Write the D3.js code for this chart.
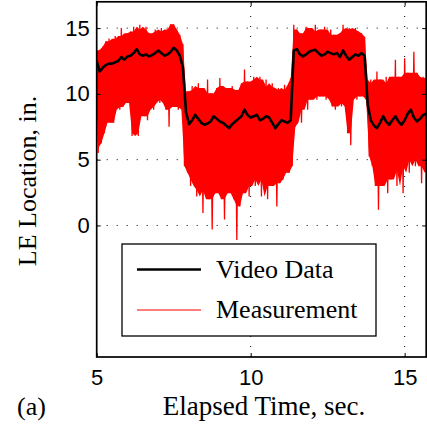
<!DOCTYPE html>
<html>
<head>
<meta charset="utf-8">
<script src="https://cdn.jsdelivr.net/npm/d3@7"></script>
<style>
  html, body { margin: 0; padding: 0; background: #fff; }
  svg { display: block; }
</style>
</head>
<body>
<svg id="chart"></svg>
<script>
// time stamps, sec.
const time = [
  5.0, 5.1, 5.2, 5.3, 5.4, 5.5, 5.6, 5.7, 5.8, 5.9,
  6.0, 6.1, 6.2, 6.3, 6.4, 6.5, 6.6, 6.7, 6.8, 6.9,
  7.0, 7.1, 7.2, 7.3, 7.4, 7.5, 7.6, 7.7, 7.8, 7.9,
  8.0, 8.1, 8.2, 8.3, 8.4, 8.5, 8.6, 8.7, 8.8, 8.9,
  9.0, 9.1, 9.2, 9.3, 9.4, 9.5, 9.6, 9.7, 9.8, 9.9,
  10.0, 10.1, 10.2, 10.3, 10.4, 10.5, 10.6, 10.7, 10.8, 10.9,
  11.0, 11.1, 11.2, 11.3, 11.4, 11.5, 11.6, 11.7, 11.8, 11.9,
  12.0, 12.1, 12.2, 12.3, 12.4, 12.5, 12.6, 12.7, 12.8, 12.9,
  13.0, 13.1, 13.2, 13.3, 13.4, 13.5, 13.6, 13.7, 13.8, 13.9,
  14.0, 14.1, 14.2, 14.3, 14.4, 14.5, 14.6, 14.7, 14.8, 14.9,
  15.0, 15.1, 15.2, 15.3, 15.4, 15.5, 15.6, 15.7
];

// LE location from video, in.
const video = [
  12.5, 11.7, 12.0, 12.2, 12.3, 12.3, 12.4, 12.5, 12.8, 12.6,
  12.85, 12.9, 13.1, 13.4, 13.0, 12.9, 13.0, 12.85, 12.95, 13.1,
  13.3, 13.1, 12.9, 13.0, 13.2, 13.5, 13.3, 12.9, 12.0, 8.6,
  7.7, 8.0, 8.4, 8.1, 7.8, 7.65, 7.75, 7.9, 8.3, 8.1,
  7.9, 7.8, 7.6, 7.4, 7.7, 7.9, 8.1, 8.3, 8.8, 8.4,
  8.2, 8.3, 8.4, 8.0, 8.1, 8.3, 8.2, 7.8, 7.4, 7.7,
  8.0, 7.9, 7.8, 8.0, 13.3, 13.4, 13.0, 12.85, 13.0, 13.2,
  13.3, 13.35, 13.1, 12.9, 13.0, 13.2, 13.1, 13.0, 13.1, 12.8,
  13.3, 12.9, 12.6, 12.8, 13.0, 12.9, 13.1, 12.9, 9.2, 8.0,
  7.6, 7.4, 7.8, 8.3, 7.9, 7.65, 8.0, 8.3, 7.9, 7.65,
  8.0, 8.5, 8.8, 8.2, 7.9, 8.1, 8.4, 8.5
];

// measurement: upper and lower swing in each 0.1 s slot
const measHigh = [
  13.35, 13.2, 13.6, 14.0, 14.2, 13.6, 14.4, 14.2, 15.0, 14.4,
  14.6, 14.75, 15.1, 14.5, 15.25, 14.9, 15.1, 14.6, 14.2, 14.9,
  14.75, 15.0, 14.6, 14.9, 15.3, 15.3, 14.9, 14.5, 13.8, 10.05,
  10.2, 10.6, 10.3, 10.8, 10.45, 10.05, 11.1, 10.05, 9.8, 10.45,
  11.2, 10.6, 10.05, 10.45, 10.6, 10.3, 10.2, 10.8, 11.85, 10.95,
  10.8, 11.3, 11.1, 11.3, 10.55, 11.1, 10.55, 10.8, 10.3, 10.45,
  10.3, 10.7, 10.05, 11.2, 15.25, 14.9, 14.6, 14.4, 15.1, 15.0,
  14.75, 15.25, 14.6, 14.9, 15.1, 14.4, 14.9, 14.5, 14.4, 14.6,
  15.25, 14.9, 15.0, 14.9, 15.0, 14.75, 14.6, 14.35, 10.55, 11.1,
  10.8, 11.7, 11.1, 10.8, 11.3, 10.8, 11.3, 12.6, 11.3, 11.1,
  12.7, 11.6, 11.1, 13.2, 11.6, 11.1, 11.3, 11.2
];
const measLow = [
  5.5, 6.25, 7.0, 8.5, 7.8, 7.8, 9.55, 8.8, 9.0, 9.3,
  9.55, 6.8, 7.0, 6.8, 8.8, 8.3, 8.0, 9.0, 8.8, 9.55,
  9.3, 9.55, 8.8, 7.5, 9.55, 9.0, 8.8, 9.3, 4.5, 4.0,
  3.0, 3.5, 2.2, 2.7, 0.95, 3.0, 2.0, -0.3, 2.45, 3.0,
  2.0, 0.45, 2.45, 3.5, 2.0, -1.1, 1.45, 2.45, 3.0, 2.2,
  3.5, 3.0, 3.5, 2.2, 3.5, 2.0, 3.0, 4.5, 1.45, 3.2,
  3.5, 4.0, 4.0, 4.5, 7.5, 8.8, 7.8, 9.55, 8.8, 9.55,
  10.05, 9.55, 9.8, 9.8, 9.55, 10.05, 9.05, 8.8, 9.3, 9.05,
  9.55, 7.0, 6.1, 9.8, 9.55, 9.8, 10.05, 9.55, 5.25, 4.5,
  3.0, 1.2, 3.0, 4.0, 2.45, 3.5, 4.2, 3.0, 4.5, 2.45,
  5.0, 4.0, 5.5, 4.5, 5.0, 3.2, 4.5, 4.0
];

const xTicks = [5, 10, 15];
const yTicks = [0, 5, 10, 15];
const legendLabels = ["Video Data", "Measurement"];

const width = 427;
const height = 427;
const plot = { left: 96.7, right: 426.2, top: 1.8, bottom: 357 };
const sans = "'Liberation Sans', Arial, sans-serif";
const serif = "'Liberation Serif', 'Times New Roman', serif";

const svg = d3.select("#chart").attr("width", width).attr("height", height);

const x = d3.scaleLinear().domain([5, 15.7]).range([plot.left, plot.right]);
const y = d3.scaleLinear().domain([-10, 17]).range([plot.bottom, plot.top]);

svg.append("defs").append("clipPath").attr("id", "clip")
  .append("rect")
  .attr("x", plot.left).attr("y", plot.top)
  .attr("width", plot.right - plot.left).attr("height", plot.bottom - plot.top);

// dotted grid
const grid = svg.append("g").attr("stroke", "#000").attr("stroke-width", 1)
  .attr("stroke-dasharray", "1,9");
grid.selectAll(".gx").data(xTicks.slice(1)).enter().append("line")
  .attr("x1", d => x(d)).attr("x2", d => x(d))
  .attr("y1", plot.bottom).attr("y2", plot.top);
grid.selectAll(".gy").data(yTicks).enter().append("line")
  .attr("y1", d => y(d)).attr("y2", d => y(d))
  .attr("x1", plot.left).attr("x2", plot.right);

const data = svg.append("g").attr("clip-path", "url(#clip)");

// measurement: dense core (median of neighbouring swings) so single spikes stay thin
const slots = time.map((t, i) => {
  const win = a => d3.median(a.slice(Math.max(0, i - 1), i + 2));
  return { t, hi: measHigh[i], lo: measLow[i], coreHi: win(measHigh), coreLo: win(measLow) };
});
data.append("path")
  .datum(slots)
  .attr("fill", "#ff0000")
  .attr("d", d3.area()
    .x1(d => x(d.t)).y1(d => y(d.coreHi))
    .x0(d => x(d.t + 0.05)).y0(d => y(d.coreLo)));

const measPts = [];
slots.forEach(d => {
  measPts.push([d.t, d.hi]);
  measPts.push([d.t + 0.05, d.lo]);
});
data.append("path")
  .datum(measPts)
  .attr("fill", "none")
  .attr("stroke", "#ff0000")
  .attr("stroke-width", 1.3)
  .attr("stroke-linejoin", "bevel")
  .attr("d", d3.line().x(d => x(d[0])).y(d => y(d[1])));

data.append("path")
  .datum(time.map((t, i) => [t, video[i]]))
  .attr("fill", "none")
  .attr("stroke", "#000")
  .attr("stroke-width", 2.6)
  .attr("stroke-linejoin", "round")
  .attr("d", d3.line().x(d => x(d[0])).y(d => y(d[1])));

// axes
const styleAxis = g => {
  g.select(".domain").remove();
  g.selectAll("line").attr("stroke", "#000").attr("stroke-width", 1);
  g.selectAll("text").attr("fill", "#000").style("font-family", sans).style("font-size", "22px");
};

svg.append("g")
  .attr("transform", `translate(0,${plot.bottom})`)
  .call(d3.axisBottom(x).tickValues(xTicks).tickSize(-4).tickSizeOuter(0).tickPadding(12))
  .call(styleAxis);
svg.append("g")
  .attr("transform", `translate(0,${plot.top})`)
  .call(d3.axisTop(x).tickValues(xTicks).tickSize(-4).tickSizeOuter(0).tickFormat(""))
  .call(styleAxis);
svg.append("g")
  .attr("transform", `translate(${plot.left},0)`)
  .call(d3.axisLeft(y).tickValues(yTicks).tickSize(-4).tickSizeOuter(0).tickPadding(7))
  .call(styleAxis);
svg.append("g")
  .attr("transform", `translate(${plot.right},0)`)
  .call(d3.axisRight(y).tickValues(yTicks).tickSize(-4).tickSizeOuter(0).tickFormat(""))
  .call(styleAxis);

svg.append("rect")
  .attr("x", plot.left).attr("y", plot.top)
  .attr("width", plot.right - plot.left).attr("height", plot.bottom - plot.top)
  .attr("fill", "none").attr("stroke", "#000").attr("stroke-width", 1.7);

// legend
const legend = svg.append("g");
legend.append("rect")
  .attr("x", 122).attr("y", 244).attr("width", 254).attr("height", 92)
  .attr("fill", "#fff").attr("stroke", "#000").attr("stroke-width", 1.3);
const legendRows = [
  { label: legendLabels[0], color: "#000", w: 2.6, y: 269.5 },
  { label: legendLabels[1], color: "#ff0000", w: 1.2, y: 310 }
];
legendRows.forEach(r => {
  legend.append("line")
    .attr("x1", 137).attr("x2", 201).attr("y1", r.y).attr("y2", r.y)
    .attr("stroke", r.color).attr("stroke-width", r.w);
  legend.append("text")
    .attr("x", 216).attr("y", r.y + 8)
    .style("font-family", serif).style("font-size", "26px")
    .text(r.label);
});

// axis titles
svg.append("text")
  .attr("x", 264).attr("y", 415)
  .attr("text-anchor", "middle")
  .style("font-family", serif).style("font-size", "27px")
  .text("Elapsed Time, sec.");
svg.append("text")
  .attr("transform", "translate(36,181) rotate(-90)")
  .attr("text-anchor", "middle")
  .style("font-family", serif).style("font-size", "26px")
  .text("LE Location, in.");
svg.append("text")
  .attr("x", 17).attr("y", 415)
  .style("font-family", serif).style("font-size", "26px")
  .text("(a)");
</script>
</body>
</html>
